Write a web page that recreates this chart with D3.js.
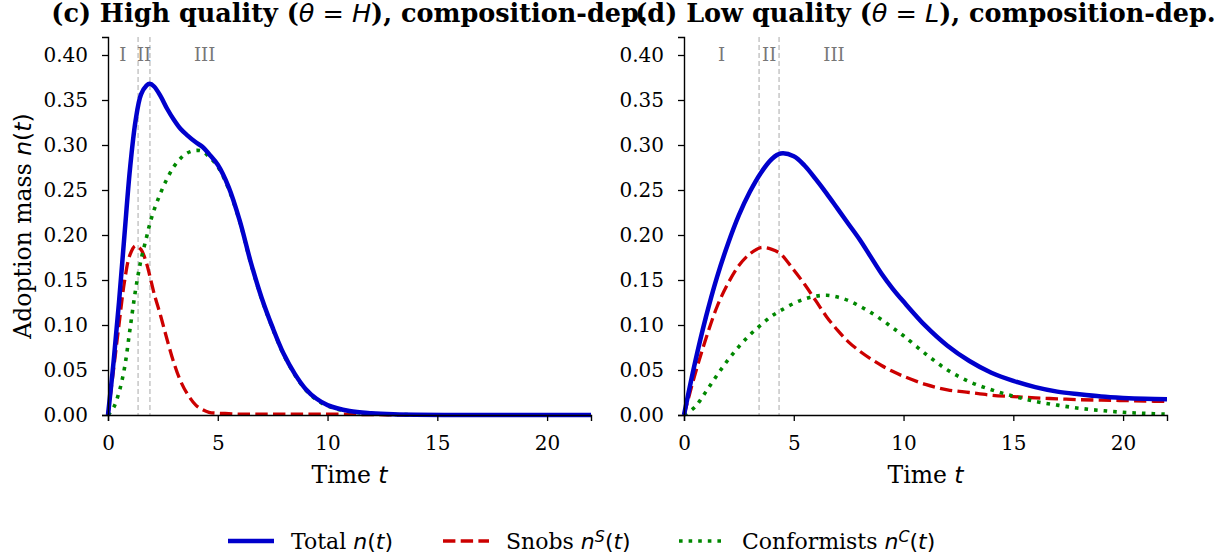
<!DOCTYPE html>
<html>
<head>
<meta charset="utf-8">
<script src="https://cdn.jsdelivr.net/npm/d3@7"></script>
<style>
body { margin: 0; background: #fff; }
text { font-family: "DejaVu Serif", serif; fill: #000; }
</style>
</head>
<body>
<div class="fig"></div>
<script>
// ---- data ----
// panel (c) high quality
var tHigh = [0, 0.25, 0.5, 0.75, 1, 1.25, 1.5, 1.75, 1.9, 2.1, 2.4, 2.7, 3, 3.3, 3.6, 4, 4.3, 4.6, 5, 5.5, 6, 6.5, 7, 7.5, 8, 8.5, 9, 9.5, 10, 11, 12, 13, 14, 16, 18, 20, 22];
var totalHigh = [0, 0.058, 0.125, 0.2, 0.273, 0.326, 0.356, 0.366, 0.368, 0.365, 0.354, 0.34, 0.328, 0.318, 0.311, 0.303, 0.298, 0.29, 0.278, 0.253, 0.216, 0.17, 0.13, 0.097, 0.068, 0.046, 0.029, 0.018, 0.011, 0.0045, 0.002, 0.0008, 0.0003, 0.0001, 0, 0, 0];
var snobsHigh = [0, 0.05, 0.1, 0.148, 0.178, 0.188, 0.184, 0.169, 0.155, 0.135, 0.11, 0.083, 0.058, 0.038, 0.024, 0.011, 0.006, 0.003, 0.002, 0.0015, 0.001, 0.001, 0.001, 0.001, 0.001, 0.001, 0.001, 0.001, 0.001, 0.0008, 0.0004, 0.0002, 0, 0, 0, 0, 0];
var conformHigh = [0, 0.008, 0.025, 0.052, 0.095, 0.138, 0.172, 0.197, 0.212, 0.228, 0.247, 0.263, 0.276, 0.285, 0.291, 0.294, 0.293, 0.287, 0.276, 0.251, 0.215, 0.169, 0.129, 0.096, 0.067, 0.045, 0.028, 0.017, 0.01, 0.0037, 0.0016, 0.0006, 0.0003, 0.0001, 0, 0, 0];
var phaseHigh = [1.37, 1.91];
var romanHigh = [0.68, 1.64, 4.4];

// panel (d) low quality
var tLow = [0, 0.5, 1, 1.5, 2, 2.5, 3, 3.5, 4, 4.4, 5, 5.5, 6, 6.5, 7, 7.5, 8, 8.5, 9, 9.5, 10, 11, 12, 13, 14, 15, 16, 17, 18, 19, 20, 21, 22];
var totalLow = [0, 0.058, 0.109, 0.153, 0.19, 0.222, 0.248, 0.269, 0.2845, 0.2905, 0.2875, 0.277, 0.262, 0.246, 0.229, 0.212, 0.195, 0.176, 0.157, 0.1405, 0.126, 0.099, 0.077, 0.06, 0.047, 0.038, 0.031, 0.026, 0.023, 0.0205, 0.019, 0.018, 0.0175];
var snobsLow = [0, 0.045, 0.085, 0.12, 0.146, 0.166, 0.179, 0.186, 0.184, 0.179, 0.161, 0.145, 0.127, 0.109, 0.094, 0.081, 0.071, 0.0625, 0.055, 0.0485, 0.043, 0.034, 0.028, 0.025, 0.022, 0.0205, 0.019, 0.018, 0.017, 0.0165, 0.016, 0.0155, 0.015];
var conformLow = [0, 0.009, 0.026, 0.044, 0.061, 0.076, 0.089, 0.1, 0.11, 0.116, 0.124, 0.129, 0.132, 0.133, 0.131, 0.127, 0.121, 0.114, 0.106, 0.097, 0.088, 0.068, 0.05, 0.037, 0.028, 0.021, 0.015, 0.011, 0.0075, 0.005, 0.003, 0.0018, 0.001];
var phaseLow = [3.42, 4.33];
var romanLow = [1.71, 3.88, 6.83];

var romanNames = ["I", "II", "III"];
var xTicks = [0, 5, 10, 15, 20];
var yTicks = [0, 0.05, 0.1, 0.15, 0.2, 0.25, 0.3, 0.35, 0.4];

var W = 1229, H = 558;
var yTop = 37, yBot = 415;

var svg = d3.select(".fig").append("svg").attr("width", W).attr("height", H);

// mathtext-ish helper: parts are [text, kind]; r = serif, i = sans italic, s = sans upright, I = sans italic superscript
function rich(txt, parts) {
  var up = false;
  parts.forEach(function(p) {
    var ts = txt.append("tspan").text(p[0]);
    if (p[1] != "r") ts.style("font-family", "'DejaVu Sans', sans-serif").style("font-weight", "normal");
    if (p[1] == "i" || p[1] == "I") ts.style("font-style", "italic");
    if (p[1] == "I") { ts.attr("dy", "-0.45em").style("font-size", "72%"); up = true; }
    else if (up) { ts.attr("dy", "0.33em"); up = false; }
  });
  return txt;
}

var series = [
  {key: "total", color: "#0000cc", width: 4.5, dash: null},
  {key: "snobs", color: "#cc0000", width: 3.3, dash: "12.4,5.3"},
  {key: "conform", color: "#008800", width: 3.6, dash: "3.6,6"}
];

function panel(x0, x1, t, vals, phase, roman, title) {
  var x = d3.scaleLinear().domain([0, 22]).range([x0, x1]);
  var y = d3.scaleLinear().domain([0, 0.42]).range([yBot, yTop]);
  var g = svg.append("g");

  // phase boundaries
  g.selectAll(".vl").data(phase).enter().append("line")
    .attr("x1", function(d) { return x(d) }).attr("x2", function(d) { return x(d) })
    .attr("y1", yTop).attr("y2", yBot)
    .style("stroke", "#bdbdbd").style("stroke-width", 1.3).style("stroke-dasharray", "5,3");

  g.selectAll(".rn").data(roman).enter().append("text")
    .attr("x", function(d) { return x(d) }).attr("y", y(0.40))
    .attr("dy", "0.35em").attr("text-anchor", "middle")
    .style("font-size", "18px").style("fill", "#777")
    .text(function(d, i) { return romanNames[i] });

  var line = d3.line().curve(d3.curveCatmullRom.alpha(0.5));
  // snobs, conformists, then total on top
  [1, 2, 0].forEach(function(k) {
    var s = series[k];
    var pts = t.map(function(tt, i) { return [x(tt), y(vals[k][i])] });
    g.append("path").attr("d", line(pts))
      .style("fill", "none").style("stroke", s.color).style("stroke-width", s.width)
      .style("stroke-dasharray", s.dash).style("stroke-linejoin", "round");
  });

  var xa = g.append("g").attr("transform", "translate(0," + yBot + ")")
    .call(d3.axisBottom(x).tickValues(xTicks).tickSizeOuter(0).tickSize(6).tickPadding(15));
  var ya = g.append("g").attr("transform", "translate(" + x0 + ",0)")
    .call(d3.axisLeft(y).tickValues(yTicks).tickFormat(d3.format(".2f")).tickSizeOuter(0).tickSize(6).tickPadding(14));
  [xa, ya].forEach(function(a) {
    a.selectAll("text").style("font-family", "'DejaVu Serif', serif").style("font-size", "20px").style("fill", "#000");
    a.selectAll("line").style("stroke", "#000").style("stroke-width", 1.3);
    a.select(".domain").style("stroke", "#000").style("stroke-width", 1.4);
  });

  rich(g.append("text").attr("x", (x0 + x1) / 2).attr("y", 483).attr("text-anchor", "middle").style("font-size", "23.5px"),
    [["Time ", "r"], ["t", "i"]]);

  rich(g.append("text").attr("x", (x0 + x1) / 2).attr("y", 22).attr("text-anchor", "middle")
    .style("font-size", "25.5px").style("font-weight", "bold"), title);
}

panel(108, 591, tHigh, [totalHigh, snobsHigh, conformHigh], phaseHigh, romanHigh,
  [["(c) High quality (", "r"], ["\u03b8", "i"], [" = ", "s"], ["H", "i"], ["), composition-dep.", "r"]]);
panel(684, 1167, tLow, [totalLow, snobsLow, conformLow], phaseLow, romanLow,
  [["(d) Low quality (", "r"], ["\u03b8", "i"], [" = ", "s"], ["L", "i"], ["), composition-dep.", "r"]]);

// y label (left panel only)
rich(svg.append("text").attr("transform", "translate(31," + (yTop + yBot) / 2 + ") rotate(-90)")
  .attr("text-anchor", "middle").style("font-size", "23.5px"),
  [["Adoption mass ", "r"], ["n", "i"], ["(", "s"], ["t", "i"], [")", "s"]]);

// legend
var legItems = [
  {x: 228, parts: [["Total ", "r"], ["n", "i"], ["(", "s"], ["t", "i"], [")", "s"]]},
  {x: 443, parts: [["Snobs ", "r"], ["n", "i"], ["S", "I"], ["(", "s"], ["t", "i"], [")", "s"]]},
  {x: 679, parts: [["Conformists ", "r"], ["n", "i"], ["C", "I"], ["(", "s"], ["t", "i"], [")", "s"]]}
];
legItems.forEach(function(d, i) {
  var s = series[i];
  svg.append("line").attr("x1", d.x).attr("x2", d.x + 46).attr("y1", 541).attr("y2", 541)
    .style("stroke", s.color).style("stroke-width", s.width).style("stroke-dasharray", s.dash);
  rich(svg.append("text").attr("x", d.x + 63).attr("y", 549).style("font-size", "22px"), d.parts);
});
</script>
</body>
</html>
